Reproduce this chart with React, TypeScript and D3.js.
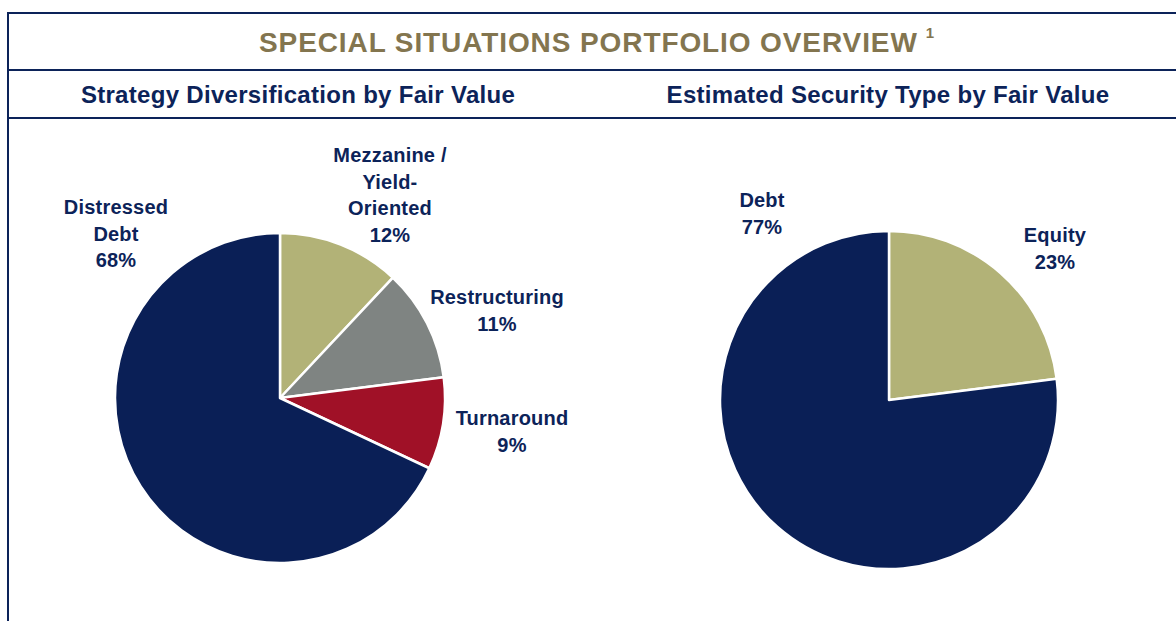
import { useEffect, useRef } from 'react';
import * as d3 from 'd3';

// strategy pie (clockwise from 12 o'clock)
const strategyNames = ['Mezzanine / Yield- Oriented', 'Restructuring', 'Turnaround', 'Distressed Debt'];
const strategyValues = [12, 11, 9, 68];
const strategyColors = ['#b2b277', '#7f8482', '#a01127', '#0a1f56'];

// security type pie
const securityNames = ['Equity', 'Debt'];
const securityValues = [23, 77];
const securityColors = ['#b2b277', '#0a1f56'];

const title = 'SPECIAL SITUATIONS PORTFOLIO OVERVIEW';
const leftTitle = 'Strategy Diversification by Fair Value';
const rightTitle = 'Estimated Security Type by Fair Value';

const NAVY = '#0c2359';
const GOLD = '#83754f';
const FONT = '"Liberation Sans", Arial, sans-serif';

// label anchors (layout only), relative to each pie centre
const strategyLabelPos = [
  { dx: 110, dy: -236, lines: ['Mezzanine /', 'Yield-', 'Oriented'] },
  { dx: 217, dy: -94, lines: ['Restructuring'] },
  { dx: 232, dy: 27, lines: ['Turnaround'] },
  { dx: -164, dy: -184, lines: ['Distressed', 'Debt'] },
];
const securityLabelPos = [
  { dx: 166, dy: -158, lines: ['Equity'] },
  { dx: -127, dy: -193, lines: ['Debt'] },
];

export default function App() {
  const svgRef = useRef<SVGSVGElement>(null);

  useEffect(() => {
    if (!svgRef.current) return;
    const svg = d3.select(svgRef.current);
    svg.selectAll('*').remove();

    const width = 1176;

    // frame lines
    const frame = svg.append('g').attr('stroke', NAVY).attr('stroke-width', 2);
    [13, 70, 118].forEach((y) => {
      frame.append('line').attr('x1', 8).attr('x2', width).attr('y1', y).attr('y2', y);
    });
    frame.append('line').attr('x1', 8).attr('x2', 8).attr('y1', 12).attr('y2', 621);

    // main title
    const t = svg
      .append('text')
      .attr('x', 597)
      .attr('y', 52)
      .attr('text-anchor', 'middle')
      .attr('font-family', FONT)
      .attr('font-weight', 'bold')
      .attr('font-size', 28)
      .attr('letter-spacing', 0.9)
      .attr('fill', GOLD);
    t.append('tspan').text(title);
    t.append('tspan').attr('dx', 8).attr('dy', -14).attr('font-size', 15).text('1');

    [
      { x: 298, text: leftTitle },
      { x: 888, text: rightTitle },
    ].forEach((s) => {
      svg
        .append('text')
        .attr('x', s.x)
        .attr('y', 103)
        .attr('text-anchor', 'middle')
        .attr('font-family', FONT)
        .attr('font-weight', 'bold')
        .attr('font-size', 24)
        .attr('letter-spacing', 0.3)
        .attr('fill', NAVY)
        .text(s.text);
    });

    const drawPie = (
      cx: number,
      cy: number,
      r: number,
      names: string[],
      values: number[],
      colors: string[],
      labels: { dx: number; dy: number; lines: string[] }[]
    ) => {
      const pie = d3.pie<number>().sort(null).value((d) => d);
      const arc = d3.arc<d3.PieArcDatum<number>>().innerRadius(0).outerRadius(r);
      const g = svg.append('g').attr('transform', `translate(${cx},${cy})`);
      const arcs = pie(values);

      g.selectAll('path')
        .data(arcs)
        .enter()
        .append('path')
        .attr('d', arc)
        .attr('fill', (_, i) => colors[i])
        .attr('stroke', '#ffffff')
        .attr('stroke-width', 2.5)
        .attr('stroke-linejoin', 'round');

      arcs.forEach((a, i) => {
        const lp = labels[i];
        const text = g
          .append('text')
          .attr('text-anchor', 'middle')
          .attr('font-family', FONT)
          .attr('font-weight', 'bold')
          .attr('font-size', 20)
          .attr('letter-spacing', 0.2)
          .attr('fill', NAVY);
        const lines = [...lp.lines, `${values[i]}%`];
        lines.forEach((line, j) => {
          text
            .append('tspan')
            .attr('x', lp.dx)
            .attr('y', lp.dy + j * 26.5)
            .text(line);
        });
        text.append('title').text(`${names[i]}: ${a.data}%`);
      });
    };

    drawPie(280, 398, 165, strategyNames, strategyValues, strategyColors, strategyLabelPos);
    drawPie(889, 400, 169, securityNames, securityValues, securityColors, securityLabelPos);
  }, []);

  return (
    <div style={{ position: 'absolute', left: 0, top: 0, width: 1176, height: 621, background: '#fff' }}>
      <svg ref={svgRef} width={1176} height={621} style={{ display: 'block' }} />
    </div>
  );
}
